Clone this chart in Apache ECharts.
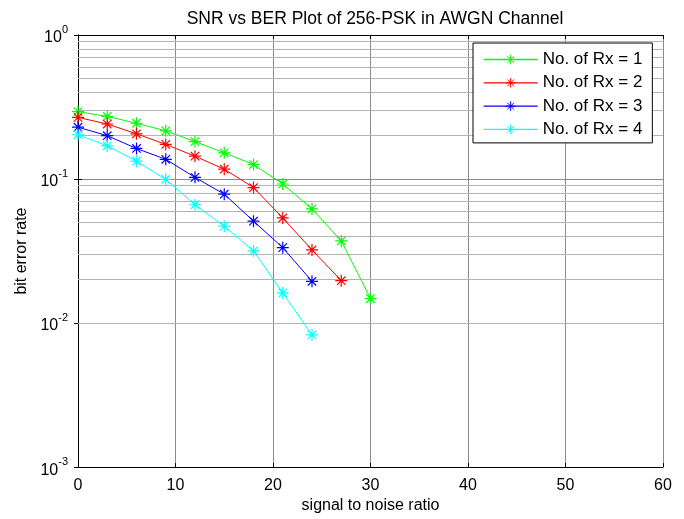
<!DOCTYPE html>
<html>
<head>
<meta charset="utf-8">
<script src="https://cdn.jsdelivr.net/npm/echarts@6/dist/echarts.min.js"></script>
<style>html,body{margin:0;padding:0;background:#fff}#c{width:684px;height:519px}</style>
</head>
<body>
<div id="c"></div>
<script>
const snrRx1 = [0, 3, 6, 9, 12, 15, 18, 21, 24, 27, 30];
const berRx1 = [0.294, 0.272, 0.244, 0.216, 0.182, 0.152, 0.126, 0.0924, 0.062, 0.0372, 0.0148];
const snrRx2 = [0, 3, 6, 9, 12, 15, 18, 21, 24, 27];
const berRx2 = [0.268, 0.241, 0.206, 0.174, 0.144, 0.117, 0.0873, 0.0537, 0.0322, 0.0197];
const snrRx3 = [0, 3, 6, 9, 12, 15, 18, 21, 24];
const berRx3 = [0.229, 0.200, 0.163, 0.137, 0.1027, 0.0785, 0.0510, 0.0334, 0.0195];
const snrRx4 = [0, 3, 6, 9, 12, 15, 18, 21, 24];
const berRx4 = [0.203, 0.170, 0.133, 0.0995, 0.0663, 0.0471, 0.0317, 0.0162, 0.00828];
const seriesNames = ['No. of Rx = 1', 'No. of Rx = 2', 'No. of Rx = 3', 'No. of Rx = 4'];
const seriesColors = ['#00ff00', '#ff0000', '#0000ff', '#00ffff'];
const minorGridValues = [0.002,0.003,0.004,0.005,0.006,0.007,0.008,0.009,
  0.02,0.03,0.04,0.05,0.06,0.07,0.08,0.09,
  0.2,0.3,0.4,0.5,0.6,0.7,0.8,0.9];

const FONT = 'Liberation Sans, Arial, sans-serif';
const star = 'path://M0,-10L0,10M-10,0L10,0M-7,-7L7,7M-7,7L7,-7';

const chart = echarts.init(document.getElementById('c'));
const xs = [snrRx1, snrRx2, snrRx3, snrRx4];
const ys = [berRx1, berRx2, berRx3, berRx4];

const lineSeries = seriesNames.map((n, i) => ({
  name: n, type: 'line', z: 5,
  data: xs[i].map((x, j) => [x, ys[i][j]]),
  symbol: star, symbolSize: 12, showAllSymbol: true,
  lineStyle: {color: seriesColors[i], width: 1},
  itemStyle: {color: seriesColors[i], borderColor: seriesColors[i], borderWidth: 1.2},
  emphasis: {disabled: true},
  animation: false
}));

const yLabel = {
  fontFamily: FONT, color: '#000', margin: 10,
  formatter: v => '{b|10}{s|' + Math.round(Math.log10(v)) + '}',
  rich: {
    b: {fontSize: 16, fontFamily: FONT, color: '#000', lineHeight: 22, verticalAlign: 'bottom'},
    s: {fontSize: 11, fontFamily: FONT, color: '#000', lineHeight: 22, verticalAlign: 'top', padding: [0,0,8,0]}
  }
};

chart.setOption({
  animation: false,
  backgroundColor: '#fff',
  title: {
    text: 'SNR vs BER Plot of 256-PSK in AWGN Channel',
    left: 370, top: 5, textAlign: 'center',
    textStyle: {fontFamily: FONT, fontSize: 17.5, fontWeight: 'normal', color: '#000'}
  },
  legend: {
    data: seriesNames.map((n, i) => ({
      name: n,
      lineStyle: {color: seriesColors[i], width: 1.3},
      itemStyle: {color: seriesColors[i], borderColor: seriesColors[i], borderWidth: 1}
    })),
    orient: 'vertical', z: 100,
    left: 473, top: 43, padding: [8, 10, 5, 10],
    itemWidth: 54, itemHeight: 12, itemGap: 6.3,
    backgroundColor: '#fff', borderColor: '#000', borderWidth: 1, borderRadius: 0,
    textStyle: {fontFamily: FONT, fontSize: 17, color: '#000'}
  },
  grid: {left: 78, right: 21, top: 35, bottom: 47, show: false},
  xAxis: [{
    type: 'value', min: 0, max: 60, interval: 10,
    name: 'signal to noise ratio', nameLocation: 'middle', nameGap: 30,
    nameTextStyle: {fontFamily: FONT, fontSize: 16, color: '#000'},
    axisLine: {show: true, lineStyle: {color: '#000', width: 1}},
    axisTick: {show: true, inside: true, length: 4, lineStyle: {color: '#000'}},
    axisLabel: {fontFamily: FONT, fontSize: 16, color: '#000', margin: 10},
    splitLine: {show: true, lineStyle: {color: '#8c8c8c', width: 1}}
  }, {
    type: 'value', min: 0, max: 60, interval: 10, position: 'top',
    axisLine: {show: true, lineStyle: {color: '#000', width: 1}},
    axisTick: {show: true, inside: true, length: 4, lineStyle: {color: '#000'}},
    axisLabel: {show: false}, splitLine: {show: false}
  }],
  yAxis: [{
    type: 'log', logBase: 10, min: 0.001, max: 1,
    name: 'bit error rate', nameLocation: 'middle', nameGap: 46, nameRotate: 90,
    nameTextStyle: {fontFamily: FONT, fontSize: 16, color: '#000'},
    axisLine: {show: true, lineStyle: {color: '#000', width: 1}},
    axisTick: {show: true, inside: true, length: 4, lineStyle: {color: '#000'}},
    axisLabel: yLabel,
    splitLine: {show: true, lineStyle: {color: '#8c8c8c', width: 1}}
  }, {
    type: 'log', logBase: 10, min: 0.001, max: 1, position: 'right',
    axisLine: {show: true, lineStyle: {color: '#000', width: 1}},
    axisTick: {show: true, inside: true, length: 4, lineStyle: {color: '#000'}},
    axisLabel: {show: false}, splitLine: {show: false}
  }],
  series: [{
    name: 'minor-grid', type: 'line', data: [], z: 1, silent: true,
    markLine: {
      silent: true, symbol: ['none', 'none'], animation: false, z: 1,
      label: {show: false},
      lineStyle: {color: '#b4b4b4', width: 1, type: 'solid'},
      emphasis: {disabled: true},
      data: minorGridValues.map(v => ({yAxis: v}))
    }
  }].concat(lineSeries)
});
</script>
</body>
</html>
